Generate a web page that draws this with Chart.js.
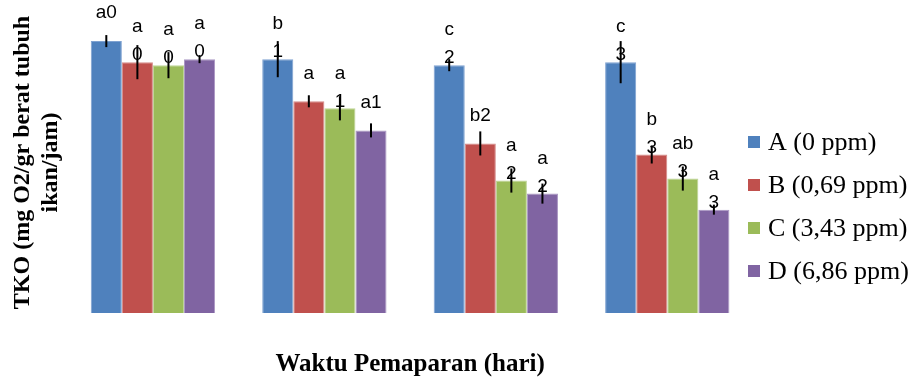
<!DOCTYPE html>
<html>
<head>
<meta charset="utf-8">
<script src="https://cdn.jsdelivr.net/npm/chart.js@4.4.1/dist/chart.umd.min.js"></script>
<style>
  html, body { margin: 0; padding: 0; background: #fff; }
  #wrap { width: 915px; height: 381px; }
</style>
</head>
<body>
<div id="wrap"><canvas id="chart"></canvas></div>
<script>
// days of exposure
const days = ['0', '1', '2', '3'];
const seriesNames = ['A (0 ppm)', 'B (0,69 ppm)', 'C (3,43 ppm)', 'D (6,86 ppm)'];

// TKO means per treatment
const tkoA = [0.271, 0.253, 0.247, 0.250];
const tkoB = [0.250, 0.211, 0.169, 0.158];
const tkoC = [0.247, 0.204, 0.132, 0.134];
const tkoD = [0.253, 0.182, 0.119, 0.103];

// error (+/-)
const errA = [0.006, 0.018, 0.006, 0.021];
const errB = [0.017, 0.006, 0.012, 0.009];
const errC = [0.013, 0.012, 0.012, 0.012];
const errD = [0.004, 0.007, 0.010, 0.005];

// notation letters above bars
const notesA = ['a0', 'b\n1', 'c\n2', 'c\n3'];
const notesB = ['a\n0', 'a', 'b2', 'b\n3'];
const notesC = ['a\n0', 'a\n1', 'a\n2', 'ab\n3'];
const notesD = ['a\n0', 'a1', 'a\n2', 'a\n3'];

const colors = ['#4F81BD', '#C0504D', '#9BBB59', '#8064A2'];
const edgeColors = ['#7FA2D1', '#D58A88', '#BDD496', '#AB98C4'];
const values = [tkoA, tkoB, tkoC, tkoD];
const errors = [errA, errB, errC, errD];
const notes = [notesA, notesB, notesC, notesD];

const barExtras = {
  id: 'barExtras',
  afterDatasetsDraw(chart) {
    const ctx = chart.ctx;
    const y = chart.scales.y;
    ctx.save();
    chart.data.datasets.forEach((ds, di) => {
      const meta = chart.getDatasetMeta(di);
      meta.data.forEach((bar, i) => {
        const v = ds.data[i];
        const e = errors[di][i];
        // error bar
        ctx.strokeStyle = '#000';
        ctx.lineWidth = 2;
        ctx.beginPath();
        ctx.moveTo(bar.x, y.getPixelForValue(v + e));
        ctx.lineTo(bar.x, y.getPixelForValue(v - e));
        ctx.stroke();
        // notation
        const top = y.getPixelForValue(v);
        const lines = notes[di][i].split('\n');
        ctx.fillStyle = '#000';
        ctx.font = '19px "Liberation Sans", Arial, sans-serif';
        ctx.textAlign = 'center';
        ctx.textBaseline = 'middle';
        if (lines.length === 2) {
          ctx.fillText(lines[0], bar.x, top - 35);
          ctx.fillText(lines[1], bar.x, top - 7);
        } else {
          ctx.fillText(lines[0], bar.x, top - 28);
        }
      });
    });
    ctx.restore();
  }
};

const sideLegend = {
  id: 'sideLegend',
  afterDraw(chart) {
    const ctx = chart.ctx;
    ctx.save();
    ctx.font = '26px "Liberation Serif", "Times New Roman", serif';
    ctx.textBaseline = 'middle';
    ctx.textAlign = 'left';
    chart.data.datasets.forEach((ds, i) => {
      const cy = 142 + i * 43;
      ctx.fillStyle = ds.backgroundColor;
      ctx.fillRect(748, cy - 6, 12, 12);
      ctx.fillStyle = '#000';
      ctx.fillText(ds.label, 768, cy + 1);
    });
    ctx.restore();
  }
};

new Chart(document.getElementById('chart'), {
  type: 'bar',
  data: {
    labels: days,
    datasets: values.map((vals, i) => ({
      label: seriesNames[i],
      data: vals,
      backgroundColor: colors[i],
      borderColor: edgeColors[i],
      borderWidth: 1,
      barPercentage: 1,
      categoryPercentage: 0.725
    }))
  },
  options: {
    responsive: true,
    maintainAspectRatio: false,
    animation: false,
    layout: { padding: { top: 12, left: 9, right: 162, bottom: 1 } },
    plugins: {
      legend: { display: false },
      tooltip: { enabled: false }
    },
    scales: {
      x: {
        grid: { display: false },
        border: { display: false },
        ticks: { display: false },
        title: {
          display: true,
          text: 'Waktu Pemaparan (hari)',
          color: '#000',
          font: { family: '"Liberation Serif", "Times New Roman", serif', size: 25, weight: 'bold', lineHeight: 1.2 },
          padding: { top: 29, bottom: 0 }
        }
      },
      y: {
        min: 0,
        max: 0.3,
        grid: { display: false },
        border: { display: false },
        ticks: { display: false },
        title: {
          display: true,
          text: ['TKO (mg O2/gr berat tubuh', 'ikan/jam)'],
          color: '#000',
          font: { family: '"Liberation Serif", "Times New Roman", serif', size: 24, weight: 'bold', lineHeight: 1.15 },
          padding: { top: 0, bottom: -5 }
        }
      }
    }
  },
  plugins: [barExtras, sideLegend]
});
</script>
</body>
</html>
